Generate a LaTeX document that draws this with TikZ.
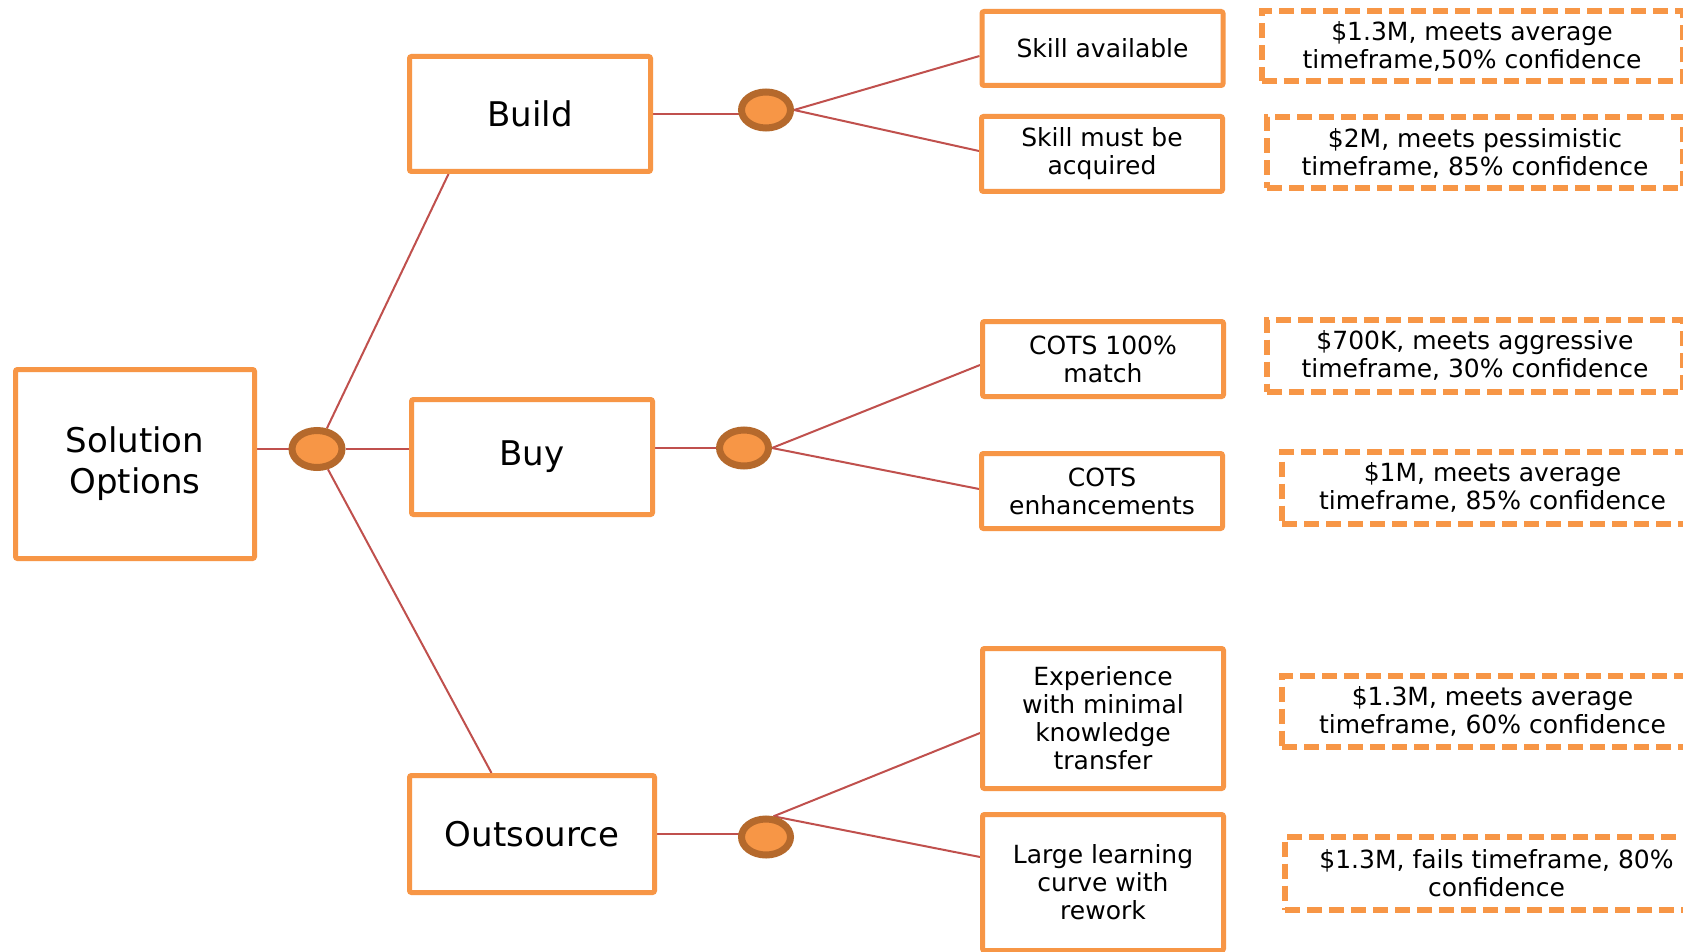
\documentclass[tikz,border=0pt]{standalone}
\usepackage{fontspec}
\setmainfont{DejaVu Sans}
\usepackage{xcolor}
\definecolor{colorBox}{HTML}{F79646}
\definecolor{colorChance}{HTML}{B5692C}
\definecolor{colorBranch}{HTML}{C0504D}
\usetikzlibrary{positioning, backgrounds, shapes.geometric}
\tikzset{
  option/.style={draw=colorBox, line width=5pt, rounded corners=2pt, fill=white, align=center, inner sep=0pt, font=\fontsize{34}{41}\selectfont},
  outcome/.style={draw=colorBox, line width=5pt, rounded corners=2pt, fill=white, align=center, inner sep=0pt, minimum width=241pt, minimum height=75pt, font=\fontsize{25}{28}\selectfont},
  estimate/.style={draw=colorBox, line width=6pt, dash pattern=on 15pt off 7pt, align=center, inner sep=0pt, minimum height=71pt, font=\fontsize{25}{28}\selectfont},
  chance/.style={ellipse, draw=colorChance, fill=colorBox, line width=7pt, minimum width=49pt, minimum height=36pt, inner sep=0pt},
  branch/.style={draw=colorBranch, line width=2pt}
}

\begin{document}
\begin{tikzpicture}[x=1pt, y=-1pt, node distance=200pt]
\useasboundingbox (0,0) rectangle (1683,952);
\node[option, minimum width=239pt, minimum height=189pt] (sol) at (135,464) {Solution\\Options};
\node[option, minimum width=241pt, minimum height=115pt] (build) at (530,114) {Build};
\node[option, minimum width=241pt, minimum height=115pt] (buy) at (532,457) {Buy};
\node[option, minimum width=245pt, minimum height=117pt] (out) at (532,834) {Outsource};
\node[chance, minimum width=50pt, minimum height=37pt, right of=sol, node distance=182pt, yshift=15pt] (root) {};
\node[chance, right of=build, node distance=236pt, yshift=4pt] (bcBuild) {};
\node[chance, right of=buy, node distance=212pt, yshift=9pt] (bcBuy) {};
\node[chance, right of=out, node distance=234pt, yshift=-3pt] (bcOut) {};
\node[outcome, minimum height=74pt] (skillOk) at (1102.5,48.5) {Skill available};
\node[outcome] (skillNok) at (1102,154) {Skill must be\\acquired};
\node[outcome] (cotsFull) at (1103,359) {COTS 100\%\\match};
\node[outcome] (cotsEnh) at (1102,491) {COTS\\enhancements};
\node[outcome, minimum height=140pt] (expMin) at (1103,718.5) {Experience\\with minimal\\knowledge\\transfer};
\node[outcome, minimum height=136pt] (learn) at (1103,882.5) {Large learning\\curve with\\rework};
\node[estimate, minimum width=421pt, minimum height=70pt, right=33pt of skillOk, yshift=2pt] (estA) {\$1.3M, meets average\\timeframe,50\% confidence};
\node[estimate, minimum width=416pt, right=39pt of skillNok, yshift=1pt] (estB) {\$2M, meets pessimistic\\timeframe, 85\% confidence};
\node[estimate, minimum width=416pt, minimum height=72pt, right=38pt of cotsFull, yshift=3.5pt] (estC) {\$700K, meets aggressive\\timeframe, 30\% confidence};
\node[estimate, minimum width=421pt, minimum height=72pt, right=54pt of cotsEnh, yshift=3.5pt] (estD) {\$1M, meets average\\timeframe, 85\% confidence};
\node[estimate, minimum width=421pt, right=53pt of expMin, yshift=7.5pt] (estE) {\$1.3M, meets average\\timeframe, 60\% confidence};
\node[estimate, minimum width=423pt, minimum height=73pt, right=56pt of learn, yshift=9.5pt] (estF) {\$1.3M, fails timeframe, 80\%\\confidence};
\begin{pgfonlayer}{background}
\fill[white] (0,0) rectangle (1683,952);
\draw[branch] (sol.east |- root) -- (root);
\draw[branch] (root) -- (buy.west |- root);
\draw[branch] (root) -- ([xshift=41.5pt]build.south west);
\draw[branch] (root) -- ([xshift=84.5pt]out.north west);
\draw[branch] (build.east) -- (build.east -| bcBuild);
\draw[branch] (buy.east |- bcBuy) -- (bcBuy);
\draw[branch] (out.east) -- (out.east -| bcOut);
\draw[branch] (bcBuild.east) -- ([yshift=-7.5pt]skillOk.west);
\draw[branch] (bcBuild.east) -- ([yshift=3pt]skillNok.west);
\draw[branch] (bcBuy.east) -- ([yshift=-6pt]cotsFull.west);
\draw[branch] (bcBuy.east) -- ([yshift=2pt]cotsEnh.west);
\draw[branch] (bcOut.70) -- ([yshift=-14.5pt]expMin.west);
\draw[branch] (bcOut.70) -- ([yshift=25.5pt]learn.west);
\end{pgfonlayer}
\end{tikzpicture}
\end{document}
